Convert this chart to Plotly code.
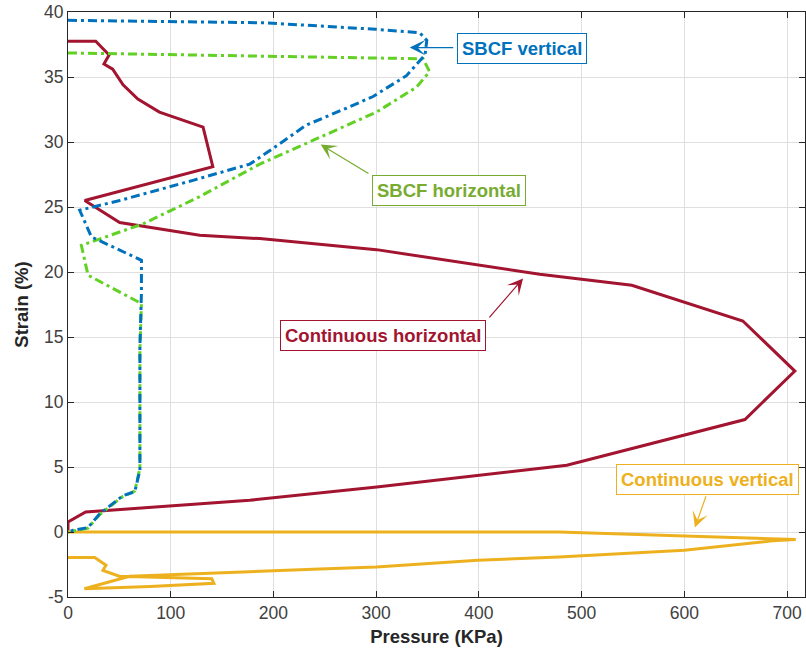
import plotly.graph_objects as go

# ---------------- data ----------------
# Continuous horizontal (red)
ch_p = [0, 27, 40, 35, 43.5, 53.6, 68, 89, 131.5, 141, 16.3, 50.3, 128.2, 186.7,
        300.3, 459.3, 548.9, 657, 707.6, 659, 485.6, 398.9, 300.6, 176.9, 89.3,
        17.2, 0, 0]
ch_s = [37.75, 37.75, 36.7, 36.0, 35.6, 34.4, 33.3, 32.3, 31.15, 28.1, 25.5, 23.8,
        22.82, 22.57, 21.72, 19.82, 18.98, 16.23, 12.38, 8.65, 5.13, 4.36, 3.46,
        2.44, 1.92, 1.54, 0.77, 0.05]

# Continuous vertical (yellow)
cv_p = [0, 26, 37, 34, 50, 140, 142, 80, 16, 60, 245, 300, 399, 478, 600, 686,
        708.5, 478, 0]
cv_s = [-1.97, -1.97, -2.55, -2.95, -3.4, -3.6, -3.95, -4.2, -4.36, -3.4, -2.85,
        -2.69, -2.18, -1.92, -1.41, -0.68, -0.58, 0, 0]

# SBCF horizontal (green)
sh_p = [0, 345.7, 352, 339, 300.3, 238.5, 186.7, 128.2, 73, 13, 19.5, 71.5, 70,
        70, 65, 53.6, 30.9, 19.5, 4.9, 0]
sh_s = [36.85, 36.4, 35.4, 34.2, 32.3, 30.1, 28.3, 25.8, 23.7, 22.05, 19.75,
        17.57, 14, 4.9, 3.15, 2.75, 1.35, 0.3, 0.1, 0]

# SBCF vertical (blue)
sv_p = [0, 191.5, 299.6, 342.5, 349.3, 347.6, 329.5, 297, 274, 232, 199.6, 177,
        121.7, 50.3, 11.4, 22.8, 71.5, 71.5, 70, 70, 65, 53.6, 30.9, 19.5, 4.9, 0]
sv_s = [39.36, 39.17, 38.67, 38.4, 37.82, 36.7, 35.1, 33.5, 32.7, 31.3, 29.5, 28.3,
        27.05, 25.5, 24.75, 22.7, 20.9, 18.4, 14.2, 4.75, 3.1, 2.8, 1.4, 0.34,
        0.13, 0]

x_ticks = [0, 100, 200, 300, 400, 500, 600, 700]
y_ticks = [-5, 0, 5, 10, 15, 20, 25, 30, 35, 40]
y_tick_text = ["-5", "0", "5", "10", "15", "20", "25", "30", "35", "40"]

# labels: (text, colour, box centre P, box centre S, arrow tip P, S, arrow tail P, S)
labels = [
    ("SBCF vertical", "#0072BD", 441.8, 37.2, 332.7, 37.26, 376.5, 37.26),
    ("SBCF horizontal", "#77AC30", 371.1, 26.3, 246, 29.8, 294, 27.5),
    ("Continuous horizontal", "#A2142F", 306.4, 15.13, 443, 19.5, 409, 16.4),
    ("Continuous vertical", "#EDB120", 622.8, 4.04, 610.3, 0.34, 621.6, 2.86),
]

# ---------------- figure ----------------
fig = go.Figure()
fig.add_trace(go.Scatter(x=ch_p, y=ch_s, mode="lines", name="Continuous horizontal",
                         line=dict(color="#A2142F", width=3)))
fig.add_trace(go.Scatter(x=cv_p, y=cv_s, mode="lines", name="Continuous vertical",
                         line=dict(color="#EDB120", width=3)))
fig.add_trace(go.Scatter(x=sh_p, y=sh_s, mode="lines", name="SBCF horizontal",
                         line=dict(color="#62D124", width=3, dash="9px,4px,3px,4px")))
fig.add_trace(go.Scatter(x=sv_p, y=sv_s, mode="lines", name="SBCF vertical",
                         line=dict(color="#0072BD", width=3, dash="9px,4px,3px,4px")))

annotations = []
for text, col, bx, by, tx, ty, ax, ay in labels:
    annotations.append(dict(x=tx, y=ty, ax=ax, ay=ay, axref="x", ayref="y",
                            xref="x", yref="y", text="", showarrow=True,
                            arrowhead=3, arrowsize=2.2, arrowwidth=1.2,
                            arrowcolor=col))
    annotations.append(dict(x=bx, y=by, xref="x", yref="y", text="<b>%s</b>" % text,
                            showarrow=False, font=dict(family="Liberation Sans",
                                                       size=18.5, color=col),
                            bgcolor="white", bordercolor=col, borderwidth=1,
                            borderpad=4))

axis_common = dict(showgrid=True, gridcolor="#DFDFDF", gridwidth=1, zeroline=False,
                   showline=True, linecolor="#262626", linewidth=1, mirror="ticks",
                   ticks="inside", ticklen=6, tickcolor="#262626", automargin=False,
                   ticklabeloverflow="allow",
                   tickfont=dict(family="Liberation Sans", size=17.5, color="#404040"))

fig.update_layout(
    width=806, height=656,
    margin=dict(l=68, r=1, t=12, b=59),
    paper_bgcolor="white", plot_bgcolor="white",
    showlegend=False,
    annotations=annotations,
    xaxis=dict(range=[0, 717.5], tickvals=x_ticks,
               title=dict(text="<b>Pressure (KPa)</b>", standoff=8,
                          font=dict(family="Liberation Sans", size=18.5, color="#262626")),
               **axis_common),
    yaxis=dict(range=[-5, 40], tickvals=y_ticks, ticktext=y_tick_text,
               title=dict(text="<b>Strain (%)</b>", standoff=10,
                          font=dict(family="Liberation Sans", size=18.5, color="#262626")),
               **axis_common),
)

# remove the default 8px page margin so the figure sits at the window's corner
fig.write_html("out.html",
               config={"displayModeBar": False},
               post_script="document.body.style.margin='0';"
                           "document.body.style.overflow='hidden';")
